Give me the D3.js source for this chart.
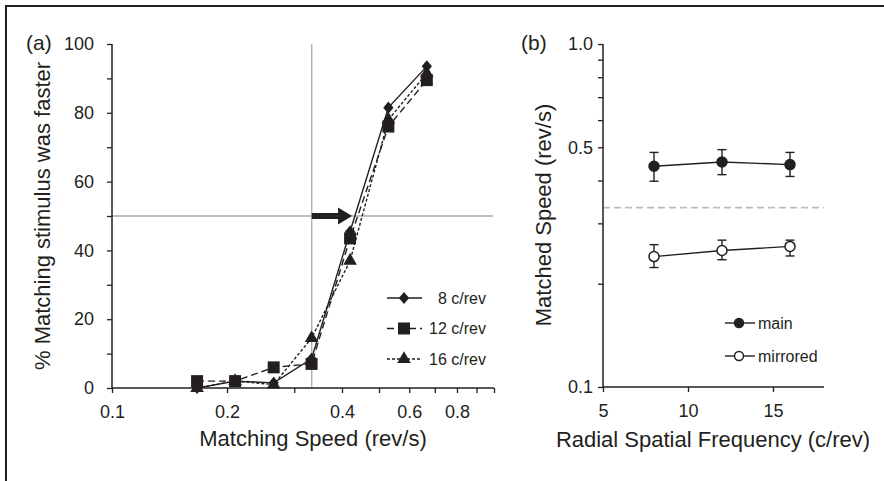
<!DOCTYPE html>
<html>
<head>
<meta charset="utf-8">
<script src="https://cdn.jsdelivr.net/npm/d3@7"></script>
<style>
  body { margin: 0; background: #fff; }
  svg text { font-family: "Liberation Sans", Arial, sans-serif; fill: #231f20; }
</style>
</head>
<body>
<div id="chart"></div>
<script>
// panel (a): psychometric functions
var speeds = [0.167, 0.210, 0.265, 0.333, 0.420, 0.529, 0.667];
var pct8  = [0, 2, 1.5, 8.5, 45.5, 81.5, 93.5];
var pct12 = [2, 2, 6, 7, 43.5, 76, 89.5];
var pct16 = [0, 2, 1, 14.5, 37, 78, 91.5];
var seriesNames = ["8 c/rev", "12 c/rev", "16 c/rev"];
var xTicksA = [0.1, 0.2, 0.4, 0.6, 0.8];
var yTicksA = [0, 20, 40, 60, 80, 100];
var refSpeed = 1 / 3, refPct = 50, arrowEnd = 0.425;

// panel (b): matched speeds
var freqs = [8, 12, 16];
var mainSpeed = [0.440, 0.453, 0.445];
var mainLo    = [0.398, 0.416, 0.411];
var mainHi    = [0.483, 0.492, 0.483];
var mirSpeed  = [0.240, 0.250, 0.257];
var mirLo     = [0.223, 0.235, 0.241];
var mirHi     = [0.260, 0.268, 0.268];
var xTicksB = [5, 10, 15];
var yTicksB = [0.1, 0.5, 1.0];

var ink = "#231f20";
var svg = d3.select("#chart").append("svg")
    .attr("width", 884).attr("height", 481);

// frame (only top and left edges show)
svg.append("line").attr("x1", 5).attr("x2", 884).attr("y1", 6).attr("y2", 6)
    .attr("stroke", ink).attr("stroke-width", 2);
svg.append("line").attr("x1", 6).attr("x2", 6).attr("y1", 5).attr("y2", 481)
    .attr("stroke", ink).attr("stroke-width", 2);

// ---------- panel (a) ----------
var xA = d3.scaleLog().domain([0.1, 1]).range([112, 494]);
var yA = d3.scaleLinear().domain([0, 100]).range([388, 44]);

var gA = svg.append("g");

// reference lines
gA.append("line").attr("x1", xA(0.1)).attr("x2", xA(1) - 1)
    .attr("y1", yA(refPct)).attr("y2", yA(refPct))
    .attr("stroke", "#aaa").attr("stroke-width", 1.3);
gA.append("line").attr("x1", xA(refSpeed)).attr("x2", xA(refSpeed))
    .attr("y1", yA(100)).attr("y2", yA(0))
    .attr("stroke", "#aaa").attr("stroke-width", 1.3);

// axes
var xAxisA = d3.axisBottom(xA)
    .tickValues(d3.range(1, 11).map(function(d) { return d / 10; }))
    .tickSize(5)
    .tickFormat(function(d) { return xTicksA.some(function(t) { return Math.abs(t - d) < 1e-9; }) ? d3.format(".1f")(d) : ""; });
var yAxisA = d3.axisLeft(yA)
    .tickValues(d3.range(0, 101, 10))
    .tickSize(5)
    .tickFormat(function(d) { return yTicksA.indexOf(d) >= 0 ? d : ""; });

function styleAxis(g) {
    g.select(".domain").attr("stroke", ink).attr("stroke-width", 1.5);
    g.selectAll(".tick line").attr("stroke", ink).attr("stroke-width", 1.3);
    g.selectAll(".tick text").attr("font-size", 18).attr("fill", ink);
}

gA.append("g").attr("transform", "translate(0," + yA(0) + ")")
    .call(xAxisA).call(styleAxis)
    .call(function(g) { g.select(".domain").attr("d", "M" + xA(0.1) + ",0H" + xA(1)); })
    .selectAll(".tick text").attr("dy", "1.2em");
gA.append("g").attr("transform", "translate(" + xA(0.1) + ",0)")
    .call(yAxisA).call(styleAxis)
    .call(function(g) { g.select(".domain").attr("d", "M0," + yA(100) + "V" + yA(0)); })
    .selectAll(".tick text").attr("x", -18);

// arrow at 50%
var ay = yA(refPct), ax0 = xA(refSpeed), ax1 = xA(arrowEnd);
gA.append("path")
    .attr("d", "M" + ax0 + "," + (ay - 3) + "H" + (ax1 - 14) + "V" + (ay - 8.5) +
               "L" + ax1 + "," + ay + "L" + (ax1 - 14) + "," + (ay + 8.5) +
               "V" + (ay + 3) + "H" + ax0 + "Z")
    .attr("fill", ink);

// custom diamond marker
var diamond = {
    draw: function(ctx, size) {
        var h = Math.sqrt(size) * 0.62, w = h * 0.85;
        ctx.moveTo(0, -h); ctx.lineTo(w, 0); ctx.lineTo(0, h); ctx.lineTo(-w, 0); ctx.closePath();
    }
};
var seriesA = [
    { name: seriesNames[0], vals: pct8,  dash: null,  sym: d3.symbol().type(diamond).size(95) },
    { name: seriesNames[1], vals: pct12, dash: "7,4", sym: d3.symbol().type(d3.symbolSquare).size(144) },
    { name: seriesNames[2], vals: pct16, dash: "3,2", sym: d3.symbol().type(d3.symbolTriangle).size(80) }
];

var lineA = d3.line()
    .x(function(d) { return xA(d[0]); })
    .y(function(d) { return yA(d[1]); });

seriesA.forEach(function(s) {
    var pts = speeds.map(function(v, i) { return [v, s.vals[i]]; });
    gA.append("path").datum(pts)
        .attr("d", lineA).attr("fill", "none")
        .attr("stroke", ink).attr("stroke-width", 1.4)
        .attr("stroke-dasharray", s.dash);
    gA.selectAll(null).data(pts).enter().append("path")
        .attr("d", s.sym)
        .attr("transform", function(d) { return "translate(" + xA(d[0]) + "," + yA(d[1]) + ")"; })
        .attr("fill", ink);
});

// legend (a)
var legA = gA.append("g");
seriesA.forEach(function(s, i) {
    var ly = 298 + i * 30.5;
    legA.append("line").attr("x1", 387).attr("x2", 422).attr("y1", ly).attr("y2", ly)
        .attr("stroke", ink).attr("stroke-width", 1.4).attr("stroke-dasharray", s.dash);
    legA.append("path").attr("d", s.sym).attr("transform", "translate(404," + ly + ")").attr("fill", ink);
    legA.append("text").attr("x", 486).attr("y", ly).attr("dy", "0.35em")
        .attr("text-anchor", "end").attr("font-size", 16).text(s.name);
});

// labels (a)
svg.append("text").attr("x", 26).attr("y", 50).attr("font-size", 21).text("(a)");
svg.append("text").attr("transform", "translate(50,216) rotate(-90)")
    .attr("text-anchor", "middle").attr("font-size", 22)
    .text("% Matching stimulus was faster");
svg.append("text").attr("x", 313).attr("y", 446).attr("text-anchor", "middle")
    .attr("font-size", 22).text("Matching Speed (rev/s)");

// ---------- panel (b) ----------
var xB = d3.scaleLinear().domain([5, 18]).range([603, 824]);
var yB = d3.scaleLog().domain([0.1, 1]).range([387, 44]);
var gB = svg.append("g");

// reference speed
gB.append("line").attr("x1", xB(5)).attr("x2", xB(18))
    .attr("y1", yB(refSpeed)).attr("y2", yB(refSpeed))
    .attr("stroke", "#bbb").attr("stroke-width", 1.6).attr("stroke-dasharray", "7,4");

var xAxisB = d3.axisBottom(xB).tickValues(xTicksB).tickSize(5).tickFormat(d3.format("d"));
var yAxisB = d3.axisLeft(yB)
    .tickValues(d3.range(1, 11).map(function(d) { return d / 10; }))
    .tickSize(5)
    .tickFormat(function(d) { return yTicksB.some(function(t) { return Math.abs(t - d) < 1e-9; }) ? d3.format(".1f")(d) : ""; });

gB.append("g").attr("transform", "translate(0," + yB(0.1) + ")")
    .call(xAxisB).call(styleAxis)
    .call(function(g) { g.select(".domain").attr("d", "M" + xB(5) + ",0H" + xB(18)); })
    .selectAll(".tick text").attr("dy", "1.2em");
gB.append("g").attr("transform", "translate(" + xB(5) + ",0)")
    .call(yAxisB).call(styleAxis)
    .call(function(g) { g.select(".domain").attr("d", "M0," + yB(1) + "V" + yB(0.1)); })
    .selectAll(".tick text").attr("x", -10);

var seriesB = [
    { name: "main", vals: mainSpeed, lo: mainLo, hi: mainHi, fill: ink },
    { name: "mirrored", vals: mirSpeed, lo: mirLo, hi: mirHi, fill: "#fff" }
];
var lineB = d3.line()
    .x(function(d) { return xB(d.f); })
    .y(function(d) { return yB(d.v); });

seriesB.forEach(function(s) {
    var pts = freqs.map(function(f, i) { return { f: f, v: s.vals[i], lo: s.lo[i], hi: s.hi[i] }; });
    gB.append("path").datum(pts).attr("d", lineB).attr("fill", "none")
        .attr("stroke", ink).attr("stroke-width", 1.4);
    var eb = gB.selectAll(null).data(pts).enter().append("g");
    eb.append("line")
        .attr("x1", function(d) { return xB(d.f); }).attr("x2", function(d) { return xB(d.f); })
        .attr("y1", function(d) { return yB(d.hi); }).attr("y2", function(d) { return yB(d.lo); })
        .attr("stroke", ink).attr("stroke-width", 1.4);
    ["hi", "lo"].forEach(function(k) {
        eb.append("line")
            .attr("x1", function(d) { return xB(d.f) - 4.5; }).attr("x2", function(d) { return xB(d.f) + 4.5; })
            .attr("y1", function(d) { return yB(d[k]); }).attr("y2", function(d) { return yB(d[k]); })
            .attr("stroke", ink).attr("stroke-width", 1.4);
    });
    eb.append("circle")
        .attr("cx", function(d) { return xB(d.f); }).attr("cy", function(d) { return yB(d.v); })
        .attr("r", 5).attr("fill", s.fill).attr("stroke", ink).attr("stroke-width", 1.5);
});

// legend (b)
seriesB.forEach(function(s, i) {
    var ly = 323 + i * 33;
    gB.append("line").attr("x1", 725).attr("x2", 755).attr("y1", ly).attr("y2", ly)
        .attr("stroke", ink).attr("stroke-width", 1.4);
    gB.append("circle").attr("cx", 739).attr("cy", ly).attr("r", 4.5)
        .attr("fill", s.fill).attr("stroke", ink).attr("stroke-width", 1.5);
    gB.append("text").attr("x", 758).attr("y", ly).attr("dy", "0.35em")
        .attr("font-size", 16).text(s.name);
});

// labels (b)
svg.append("text").attr("x", 521).attr("y", 50).attr("font-size", 21).text("(b)");
svg.append("text").attr("transform", "translate(551,215) rotate(-90)")
    .attr("text-anchor", "middle").attr("font-size", 22)
    .text("Matched Speed (rev/s)");
svg.append("text").attr("x", 713).attr("y", 447).attr("text-anchor", "middle")
    .attr("font-size", 22).text("Radial Spatial Frequency (c/rev)");
</script>
</body>
</html>
